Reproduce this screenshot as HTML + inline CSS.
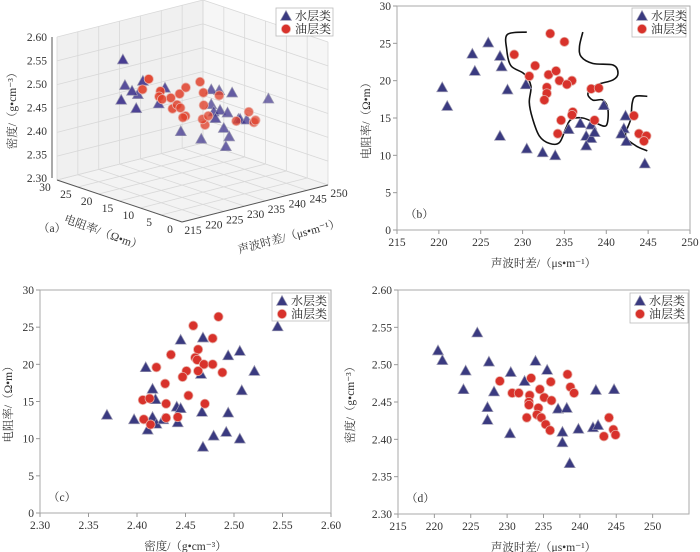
<!DOCTYPE html>
<html><head><meta charset="utf-8">
<style>
html,body{margin:0;padding:0;background:#fff;}
svg{display:block;font-family:"Liberation Serif","Noto Serif CJK SC",serif;}
</style></head>
<body>
<svg id="fig" width="700" height="552" viewBox="0 0 700 552"></svg>
<script>
// ---- data ----
const bWaterX=[220.4,221,224,224.3,225.9,227.3,227.5,228.2,227.3,230.4,230.5,232.4,233.9,235.5,236.9,238.2,239.7,237.6,238.2,238.6,237.6,242.3,242.1,241.8,242.4,244.6];
const bWaterY=[19.1,16.6,23.6,21.3,25.1,23.3,21.9,18.8,12.6,19.5,10.9,10.4,10,13.5,14.3,14.1,16.7,12.6,12.3,13.1,11.3,15.3,13.6,12.9,11.9,8.9];
const bOilX=[233.3,235,229,231.5,233.1,234,230.8,234.4,235.9,235.3,232.9,232.9,232.6,238.2,239.1,236,235.9,234.6,238.6,234.2,243.3,243.9,244.8,244.5];
const bOilY=[26.3,25.2,23.5,22,20.8,21.3,20.6,20,20,19.5,19.1,18.3,17.4,18.9,19,15.8,15.4,14.7,14.7,12.9,15.3,12.9,12.6,11.9];
const cWaterX=[2.369,2.397,2.409,2.416,2.419,2.416,2.420,2.411,2.427,2.445,2.441,2.445,2.442,2.468,2.466,2.467,2.468,2.479,2.494,2.494,2.492,2.506,2.508,2.506,2.521,2.545];
const cWaterY=[13.2,12.6,19.6,16.7,15.3,12.9,12.0,11.2,12.6,23.3,14.3,14.1,12.2,23.6,18.7,13.6,8.9,10.4,21.2,13.5,10.9,21.8,16.5,10,19.1,25.1];
const cOilX=[2.484,2.458,2.478,2.435,2.463,2.460,2.462,2.469,2.478,2.420,2.451,2.463,2.488,2.447,2.429,2.453,2.406,2.413,2.430,2.470,2.407,2.430,2.442,2.414];
const cOilY=[26.4,25.2,23.5,21.3,22,20.9,20.6,20,20,19.6,19.1,19.1,18.9,18.3,17.4,15.8,15.2,15.4,14.7,14.7,12.6,12.8,12.9,11.9];
const dWaterX=[220.5,221.1,225.9,224.3,224,227.5,230.5,228.2,227.3,227.3,230.4,232.4,233.9,235.5,237,238.2,237.6,237.6,238.6,239.8,241.8,242.5,242.2,244.7];
const dWaterY=[2.519,2.506,2.543,2.492,2.467,2.504,2.490,2.464,2.443,2.426,2.408,2.478,2.505,2.493,2.441,2.442,2.410,2.396,2.368,2.414,2.416,2.419,2.466,2.467];
const dOilX=[229,230.7,231.6,233.3,233.1,233,233,234.5,236,235.1,236.1,234.3,234.1,234.7,232.7,235.3,235.9,238.3,238.7,239.2,244,244.6,244.9,243.3];
const dOilY=[2.478,2.462,2.462,2.482,2.459,2.450,2.446,2.467,2.477,2.456,2.452,2.442,2.433,2.429,2.429,2.420,2.412,2.487,2.470,2.462,2.429,2.413,2.406,2.404];
const aWaterA=[220.4,221,224,224.3,225.9,227.3,227.5,228.2,227.3,230.4,230.5,232.4,233.9,235.5,236.9,238.2,239.7,237.6,238.2,238.6,237.6,242.3,242.1,241.8,242.4,244.6];
const aWaterR=[19.1,16.6,23.6,21.3,25.1,23.3,21.9,18.8,12.6,19.5,10.9,10.4,10,13.5,14.3,14.1,16.7,12.6,12.3,13.1,11.3,15.3,13.6,12.9,11.9,8.9];
const aWaterD=[2.519,2.506,2.467,2.492,2.543,2.443,2.504,2.464,2.426,2.490,2.408,2.478,2.505,2.493,2.441,2.442,2.414,2.410,2.442,2.368,2.396,2.466,2.416,2.419,2.419,2.467];
const aOilA=[233.3,235,229,231.5,233.1,234,230.8,234.4,235.9,235.3,232.9,232.9,232.6,238.2,239.1,236,235.9,234.6,238.6,234.2,243.3,243.9,244.8,244.5];
const aOilR=[26.3,25.2,23.5,22,20.8,21.3,20.6,20,20,19.5,19.1,18.3,17.4,18.9,19,15.8,15.4,14.7,14.7,12.9,15.3,12.9,12.6,11.9];
const aOilD=[2.482,2.456,2.478,2.462,2.459,2.433,2.462,2.467,2.477,2.420,2.450,2.446,2.429,2.487,2.462,2.452,2.412,2.429,2.470,2.442,2.404,2.429,2.406,2.413];
const acTicks=[215,220,225,230,235,240,245,250];
const resTicks=[0,5,10,15,20,25,30];
const denTicks=[2.30,2.35,2.40,2.45,2.50,2.55,2.60];
// boundary curves in panel b, in data units (acoustic, resistivity)
const curve1A=[230.5,228.2,228.1,228.6,230.2,231.0,230.8,231.2,232.0,233.2,234.4,235.2,235.8,237.2,238.8,240.0,240.2,239.6,238.4,237.8,238.8,240.8,241.4,240.8,238.4,237.0,236.8,237.2];
const curve1R=[26.5,26.2,24.2,22.0,20.9,19.3,17.1,14.9,12.6,11.6,11.7,13.7,14.8,15.0,14.3,14.0,16.1,17.4,17.4,18.3,19.4,20.1,21.0,22.1,22.3,23.2,24.6,26.5];
const curve2A=[244.9,243.5,243.1,242.9,242.3,243.5,244.9];
const curve2R=[17.9,17.9,17.0,14.8,12.6,11.3,10.6];

const NS="http://www.w3.org/2000/svg";
const svg=document.getElementById('fig');
function mk(tag,attrs,parent,text){const e=document.createElementNS(NS,tag);for(const k in attrs)e.setAttribute(k,attrs[k]);if(text!==undefined)e.textContent=text;(parent||svg).appendChild(e);return e;}
const WC="#3a3a80",OC="#d8322b";
function tri(g,x,y,fill,op){const s=5.5;const p=mk('polygon',{points:`${x},${y-s} ${x-s},${y+s*0.8} ${x+s},${y+s*0.8}`,fill:fill,stroke:'#9a98b0','stroke-width':0.7,'fill-opacity':op||1},g);return p;}
function circ(g,x,y,fill,op){return mk('circle',{cx:x,cy:y,r:4.6,fill:fill,stroke:'#e8b0a8','stroke-width':0.8,'fill-opacity':op||1},g);}
function smooth(pts){let d='M'+pts[0][0].toFixed(1)+','+pts[0][1].toFixed(1);
  for(let i=0;i<pts.length-1;i++){const p0=pts[Math.max(0,i-1)],p1=pts[i],p2=pts[i+1],p3=pts[Math.min(pts.length-1,i+2)];
    const c1=[p1[0]+(p2[0]-p0[0])/6,p1[1]+(p2[1]-p0[1])/6],c2=[p2[0]-(p3[0]-p1[0])/6,p2[1]-(p3[1]-p1[1])/6];
    d+=` C${c1[0].toFixed(1)},${c1[1].toFixed(1)} ${c2[0].toFixed(1)},${c2[1].toFixed(1)} ${p2[0].toFixed(1)},${p2[1].toFixed(1)}`;}
  return d;}
function legend(x,y,w,h,name){
  const g=mk('g',{});
  
  
  mk('rect',{x:x,y:y,width:w,height:h,fill:'#fff',stroke:'#bbb','stroke-width':0.8},g);
  const t=tri(g,x+10,y+8,WC);
  
  const t1=mk('text',{x:x+19,y:y+12,'font-size':12,fill:'#222'},g,'水层类');
  
  const c=circ(g,x+10,y+21,OC);
  
  const t2=mk('text',{x:x+19,y:y+25,'font-size':12,fill:'#222'},g,'油层类');
  
}
function panel(o){
  const g=mk('g',{});
  
  
  const sx=v=>o.l+(v-o.x0)/(o.x1-o.x0)*(o.r-o.l);
  const sy=v=>o.b-(v-o.y0)/(o.y1-o.y0)*(o.b-o.t);
  const fr=mk('rect',{x:o.l,y:o.t,width:o.r-o.l,height:o.b-o.t,fill:'none',stroke:'#aaa','stroke-width':1},g);
  
  o.xt.forEach(v=>{const x=sx(v);mk('line',{x1:x,y1:o.b,x2:x,y2:o.b+4,stroke:'#999'},g);
    const t=mk('text',{x:x,y:o.b+16,'text-anchor':'middle','font-size':11.5,fill:'#333'},g,o.xf(v));
    });
  o.yt.forEach(v=>{const y=sy(v);mk('line',{x1:o.l-4,y1:y,x2:o.l,y2:y,stroke:'#999'},g);
    const t=mk('text',{x:o.l-6,y:y+4,'text-anchor':'end','font-size':11.5,fill:'#333'},g,o.yf(v));
    });
  const xl=mk('text',{x:(o.l+o.r)/2,y:o.b+37,'text-anchor':'middle','font-size':11.5,fill:'#333'},g,o.xlab);
  
  const yx=o.ylx,yy=(o.t+o.b)/2;
  const yl=mk('text',{x:yx,y:yy,'text-anchor':'middle','font-size':11.5,fill:'#333',transform:`rotate(-90 ${yx} ${yy})`},g,o.ylab);
  
  const pl=mk('text',{x:o.l+8,y:o.b-12,'font-size':11.5,fill:'#333'},g,o.plab);
  
  if(o.curves)o.curves.forEach(c=>{
    const pts=c[0].map((a,i)=>[sx(a),sy(c[1][i])]);
    const p=mk('path',{d:smooth(pts),fill:'none',stroke:'#111','stroke-width':1.6},g);
    });
  o.wx.forEach((v,i)=>{const p=tri(g,sx(v),sy(o.wy[i]),WC);
    });
  o.ox.forEach((v,i)=>{const p=circ(g,sx(v),sy(o.oy[i]),OC);
    });
}
const f2=v=>v.toFixed(2), f0=v=>String(v);
panel({name:'panel-b',l:397,r:690,t:6,b:230,x0:215,x1:250,y0:0,y1:30,xt:acTicks,yt:resTicks,xf:f0,yf:f0,
  xlab:'声波时差/（μs•m⁻¹）',ylab:'电阻率/（Ω•m）',ylx:370,plab:'（b）',
  wx:bWaterX,wy:bWaterY,ox:bOilX,oy:bOilY,curves:[[curve1A,curve1R],[curve2A,curve2R]]});
legend(632,8,54,29,'legend-b');
panel({name:'panel-c',l:40,r:331,t:290,b:513,x0:2.30,x1:2.60,y0:0,y1:30,xt:denTicks,yt:resTicks,xf:f2,yf:f0,
  xlab:'密度/（g•cm⁻³）',ylab:'电阻率/（Ω•m）',ylx:12,plab:'（c）',
  wx:cWaterX,wy:cWaterY,ox:cOilX,oy:cOilY});
legend(272,293,57,28,'legend-c');
panel({name:'panel-d',l:398,r:689,t:290,b:514,x0:215,x1:255,y0:2.30,y1:2.60,xt:acTicks,yt:denTicks,xf:f0,yf:f2,
  xlab:'声波时差/（μs•m⁻¹）',ylab:'密度/（g•cm⁻³）',ylx:354,plab:'（d）',
  wx:dWaterX,wy:dWaterY,ox:dOilX,oy:dOilY});
legend(630,293,58,30,'legend-d');

(function(){
  const g=mk('g',{});
  
  
  const O=[182,222],U=[146,-37],V=[-125,-42],W=[0,-143];
  const P=(a,r,d)=>{const u=(a-215)/35,v=r/30,w=(d-2.30)/0.30;return [O[0]+u*U[0]+v*V[0]+w*W[0],O[1]+u*U[1]+v*V[1]+w*W[1]];};
  const poly=(pts,attrs)=>mk('polygon',Object.assign({points:pts.map(p=>p.join(',')).join(' ')},attrs),g);
  const f1=poly([P(215,0,2.3),P(250,0,2.3),P(250,30,2.3),P(215,30,2.3)],{fill:'#f3f3f3',stroke:'none'});
  
  const f2p=poly([P(215,30,2.3),P(250,30,2.3),P(250,30,2.6),P(215,30,2.6)],{fill:'#f0f0f0',stroke:'none'});
  
  const f3=poly([P(250,0,2.3),P(250,30,2.3),P(250,30,2.6),P(250,0,2.6)],{fill:'#f6f6f6',stroke:'none'});
  
  const ln=(p,q,c,w)=>mk('line',{x1:p[0],y1:p[1],x2:q[0],y2:q[1],stroke:c||'#d8d8d8','stroke-width':w||0.8},g);
  acTicks.forEach(a=>{ln(P(a,0,2.3),P(a,30,2.3));ln(P(a,30,2.3),P(a,30,2.6));});
  resTicks.forEach(r=>{ln(P(215,r,2.3),P(250,r,2.3));ln(P(250,r,2.3),P(250,r,2.6));});
  denTicks.forEach(d=>{ln(P(215,30,d),P(250,30,d));ln(P(250,30,d),P(250,0,d));});
  ln([52,37],[52,178],'#555',1);
  ln(P(215,30,2.3),P(215,0,2.3),'#555',1);
  ln(P(215,0,2.3),P(250,0,2.3),'#555',1);
  denTicks.forEach(d=>{const y=37+(2.60-d)/0.30*141;
    const t=mk('text',{x:47,y:y+4,'text-anchor':'end','font-size':11.5,fill:'#333'},g,d.toFixed(2));
    });
  resTicks.forEach(r=>{const p=P(215,r,2.3);
    const t=mk('text',{x:p[0]-12,y:p[1]+11,'text-anchor':'middle','font-size':11.5,fill:'#333'},g,String(r));
    });
  acTicks.forEach(a=>{const p=P(a,0,2.3);
    const t=mk('text',{x:p[0]+11,y:p[1]+12,'text-anchor':'middle','font-size':11.5,fill:'#333'},g,String(a));
    });
  const zl=mk('text',{x:16,y:108,'text-anchor':'middle','font-size':11.5,fill:'#333',transform:'rotate(-90 16 108)'},g,'密度/（g•cm⁻³）');
  
  const rl=mk('text',{x:102,y:236,'text-anchor':'middle','font-size':11.5,fill:'#333',transform:'rotate(20 102 236)'},g,'电阻率/（Ω•m）');
  
  const al=mk('text',{x:290,y:240,'text-anchor':'middle','font-size':11.5,fill:'#333',transform:'rotate(-15 290 240)'},g,'声波时差/（μs•m⁻¹）');
  
  const pl=mk('text',{x:38,y:232,'font-size':11.5,fill:'#333'},g,'（a）');
  
  aWaterA.forEach((a,i)=>{const p=P(a,aWaterR[i],aWaterD[i]);const m=tri(g,p[0],p[1],'#3a2f8a',0.55+0.45*aWaterR[i]/30);
    });
  aOilA.forEach((a,i)=>{const p=P(a,aOilR[i],aOilD[i]);const m=circ(g,p[0],p[1],'#e0402a',0.55+0.45*aOilR[i]/30);
    });
})();
legend(276,8,57,28,'legend-a');
</script>
</body></html>
